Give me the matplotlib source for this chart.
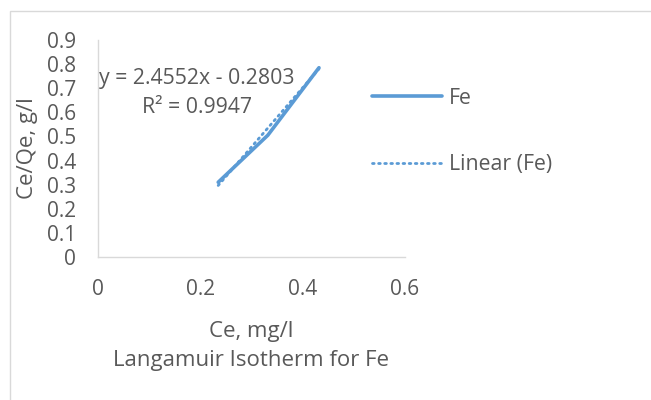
import matplotlib.pyplot as plt
import numpy as np
from matplotlib.patches import Rectangle

# Langmuir isotherm data for Fe
ce = [0.235, 0.332, 0.432]          # Ce, mg/l
ce_qe = [0.310, 0.505, 0.785]       # Ce/Qe, g/l
fit_slope = 2.4552
fit_intercept = -0.2803
fit_r2 = 0.9947

BLUE = "#5B9BD5"
GREY = "#595959"
AXIS = "#D9D9D9"

plt.rcParams.update({
    "font.family": ["Open Sans", "DejaVu Sans"],
    "font.size": 15.3,
    "text.color": GREY,
    "xtick.color": GREY,
    "ytick.color": GREY,
})

fig = plt.figure(figsize=(6.51, 4.0), dpi=100)
ax = fig.add_axes([0.1505, 0.3575, 0.4715, 0.5425])

# chart frame
fig.patches.append(Rectangle((10 / 651, -0.1), 1.2, 1 - 11 / 400 + 0.1,
                             transform=fig.transFigure, fill=False,
                             edgecolor=AXIS, linewidth=1.0))

ax.plot(ce, ce_qe, color=BLUE, linewidth=2.6, solid_capstyle="round",
        label="Fe", zorder=3)

xfit = np.array([min(ce), max(ce)])
ax.plot(xfit, fit_slope * xfit + fit_intercept, color=BLUE, linewidth=2.0,
        linestyle=(0, (0.6, 1.6)), dash_capstyle="round",
        label="Linear (Fe)", zorder=4)

ax.set_xlim(0, 0.6)
ax.set_ylim(0, 0.9)
ax.set_xticks([0, 0.2, 0.4, 0.6])
ax.set_xticklabels(["0", "0.2", "0.4", "0.6"])
ax.set_yticks(np.arange(0, 0.91, 0.1))
ax.set_yticklabels(["0"] + [f"{v:.1f}" for v in np.arange(0.1, 0.91, 0.1)])
ax.tick_params(length=0, labelsize=15)
ax.tick_params(axis="x", pad=16)
ax.tick_params(axis="y", pad=16)

for side in ["top", "right"]:
    ax.spines[side].set_visible(False)
for side in ["left", "bottom"]:
    ax.spines[side].set_color(AXIS)
    ax.spines[side].set_linewidth(1.0)

ax.text(0.194, 0.68, f"y = {fit_slope}x - {abs(fit_intercept)}\nR² = {fit_r2}",
        ha="center", va="center", linespacing=1.5)

fig.text(28 / 651, 1 - 148 / 400, "Ce/Qe, g/l", rotation=90,
         ha="center", va="center", fontsize=16)
fig.text(251 / 651, 1 - 337 / 400, "Ce, mg/l", ha="center", va="baseline",
         fontsize=16)
fig.text(251 / 651, 1 - 366 / 400, "Langamuir Isotherm for Fe",
         ha="center", va="baseline", fontsize=16)

ax.legend(loc="upper left", bbox_to_anchor=(0.866, 0.82), frameon=False,
          handlelength=3.3, handletextpad=0.3, labelspacing=2.15,
          borderaxespad=0)

fig.savefig("out.png", dpi=100)
